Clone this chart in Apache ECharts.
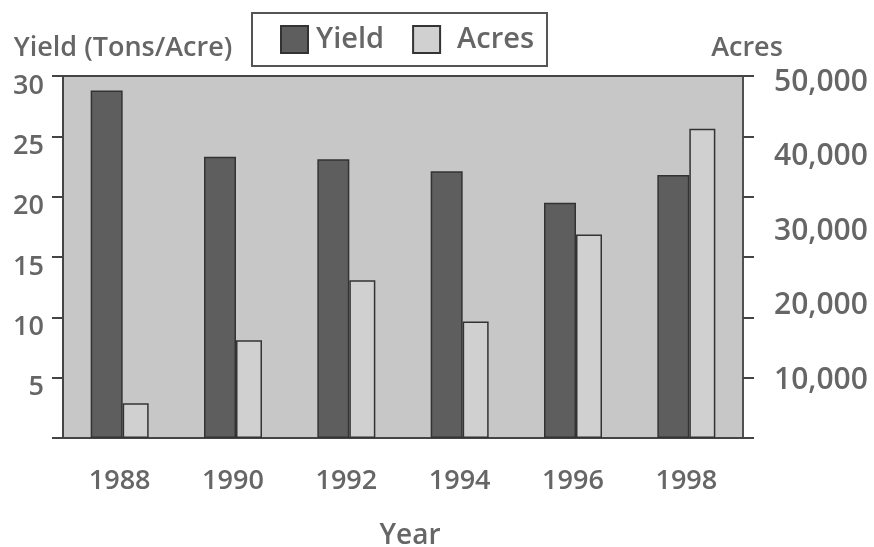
<!DOCTYPE html>
<html>
<head>
<meta charset="utf-8">
<script src="https://cdn.jsdelivr.net/npm/echarts@6/dist/echarts.min.js"></script>
<style>
  html, body { margin: 0; padding: 0; background: #fff; }
  #chart { width: 874px; height: 547px; }
</style>
</head>
<body>
<div id="chart"></div>
<script>
// data
const years = ['1988', '1990', '1992', '1994', '1996', '1998'];
const yieldTons = [28.8, 23.3, 23.1, 22.1, 19.5, 21.8];
const acres = [4800, 13500, 21800, 16100, 28100, 42700];

const textColor = '#666';
const font = 'Open Sans';
const weight = 600;

const chart = echarts.init(document.getElementById('chart'));

const option = {
  animation: false,
  textStyle: { fontFamily: font, color: textColor, fontWeight: weight },
  legend: {
    left: 252,
    top: 13,
    padding: [12, 13, 12, 28],
    itemWidth: 27,
    itemHeight: 27,
    itemGap: 28,
    icon: 'rect',
    borderColor: '#555',
    borderWidth: 2,
    backgroundColor: '#fff',
    textStyle: { fontFamily: font, fontSize: 29, fontWeight: weight, color: textColor },
    data: [
      { name: 'Yield', textStyle: { padding: [0, 0, 0, 3] } },
      { name: 'Acres', textStyle: { padding: [0, 0, 0, 12] } }
    ]
  },
  grid: [
    {
      left: 63, right: 131, top: 76, bottom: 109,
      outerBoundsMode: 'none',
      show: true,
      backgroundColor: '#c7c7c7',
      borderColor: '#444',
      borderWidth: 2
    },
    // label-only grid for the right-hand axis labels
    { left: 63, right: 131, top: 82, height: 298, outerBoundsMode: 'none', show: false }
  ],
  xAxis: [
    {
      type: 'category',
      gridIndex: 0,
      data: years,
      axisLine: { lineStyle: { color: '#444', width: 2 } },
      axisTick: { show: false },
      axisLabel: { fontSize: 27, fontWeight: weight, color: textColor, margin: 30 },
      name: 'Year',
      nameLocation: 'middle',
      nameGap: 84,
      nameTextStyle: { fontSize: 28, fontWeight: weight, color: textColor, padding: [0, 0, 0, 14] }
    },
    { type: 'value', gridIndex: 1, show: false }
  ],
  yAxis: [
    {
      type: 'value',
      gridIndex: 0,
      position: 'left',
      min: 0,
      max: 30,
      interval: 5,
      splitLine: { show: false },
      axisLine: { show: true, lineStyle: { color: '#444', width: 2 } },
      axisTick: { show: true, length: 11, lineStyle: { color: '#444', width: 2 } },
      axisLabel: {
        fontSize: 27,
        fontWeight: weight,
        color: textColor,
        margin: 19,
        verticalAlign: 'top',
        lineHeight: 20,
        formatter: v => (v === 0 ? '' : String(v))
      },
      name: 'Yield (Tons/Acre)',
      nameLocation: 'end',
      nameGap: 14,
      nameTextStyle: { fontSize: 27, fontWeight: weight, color: textColor, padding: [0, 0, 0, 120] }
    },
    {
      type: 'value',
      gridIndex: 0,
      position: 'right',
      min: 0,
      max: 50000,
      interval: 50000 / 6,
      splitLine: { show: false },
      axisLine: { show: true, lineStyle: { color: '#555', width: 1.5 } },
      axisTick: { show: true, length: 11, lineStyle: { color: '#444', width: 2 } },
      axisLabel: { show: false },
      name: 'Acres',
      nameLocation: 'end',
      nameGap: 14,
      nameTextStyle: { fontSize: 27, fontWeight: weight, color: textColor, padding: [0, 0, 0, 8] }
    },
    {
      type: 'value',
      gridIndex: 1,
      position: 'right',
      min: 10000,
      max: 50000,
      interval: 10000,
      splitLine: { show: false },
      axisLine: { show: false },
      axisTick: { show: false },
      axisLabel: {
        fontSize: 30,
        fontWeight: weight,
        color: textColor,
        margin: 31,
        formatter: v => v.toLocaleString('en-US')
      }
    }
  ],
  series: [
    {
      name: 'Yield',
      type: 'bar',
      xAxisIndex: 0,
      yAxisIndex: 0,
      data: yieldTons,
      barWidth: 32,
      barGap: '0%',
      itemStyle: { color: '#5e5e5e', borderColor: '#333', borderWidth: 1.5 }
    },
    {
      name: 'Acres',
      type: 'bar',
      xAxisIndex: 0,
      yAxisIndex: 1,
      data: acres,
      barWidth: 26,
      barGap: '0%',
      itemStyle: { color: '#d0d0d0', borderColor: '#333', borderWidth: 1.5 }
    }
  ]
};

chart.setOption(option);
</script>
</body>
</html>
